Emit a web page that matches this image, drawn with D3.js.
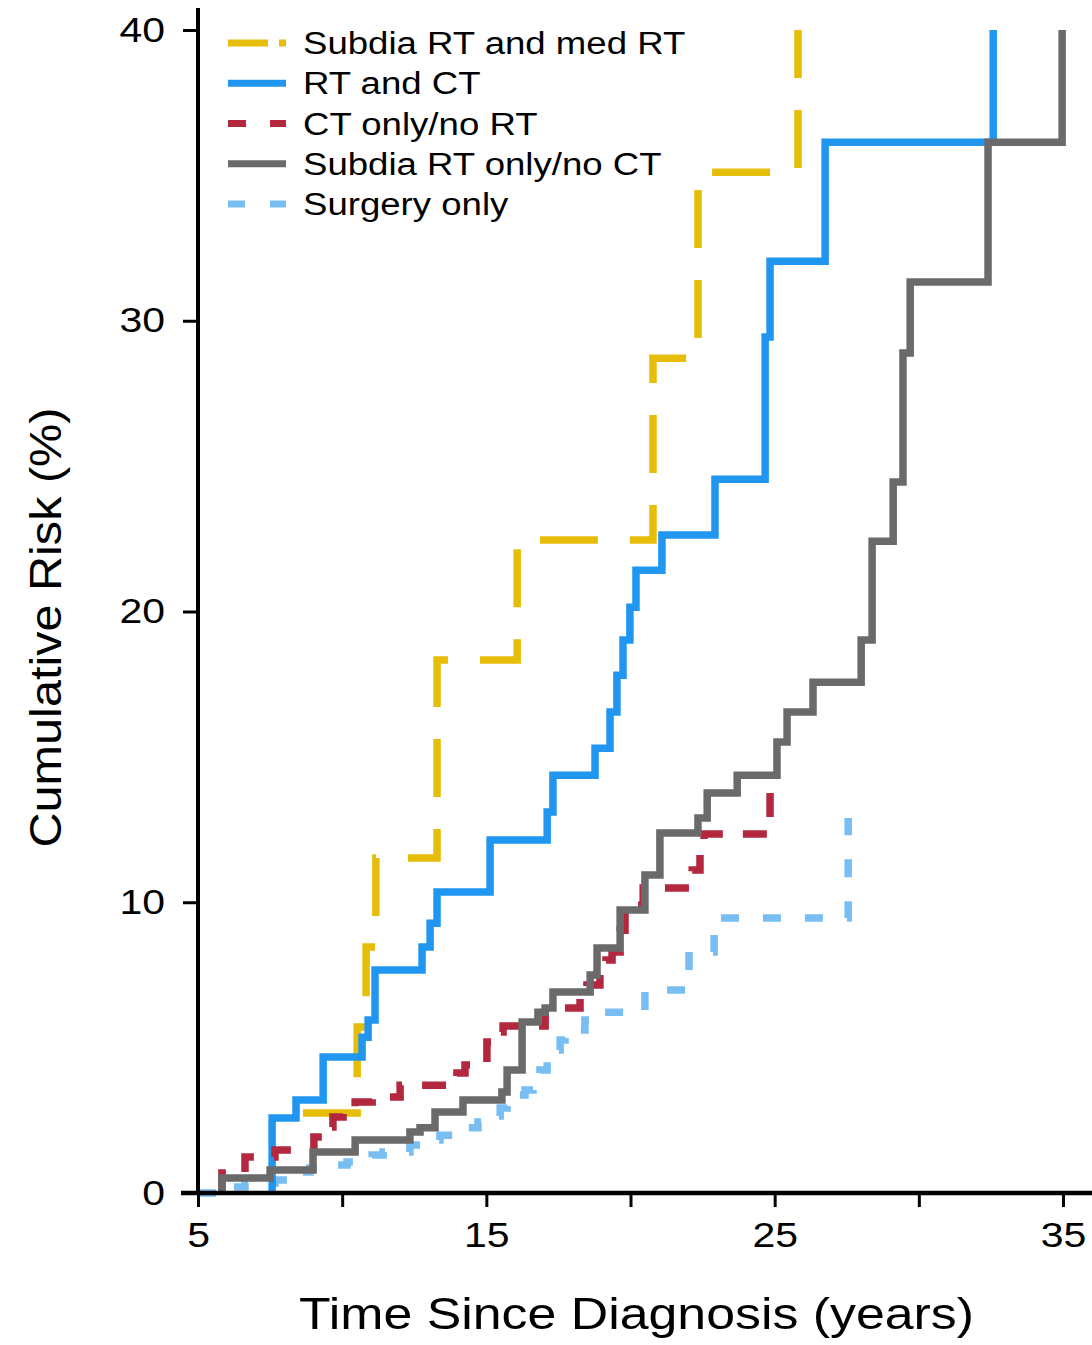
<!DOCTYPE html>
<html>
<head>
<meta charset="utf-8">
<script src="https://cdn.jsdelivr.net/npm/d3@7"></script>
<style>
  html, body { margin: 0; padding: 0; background: #fff; }
  svg { display: block; }
  text { font-family: "Liberation Sans", Arial, Helvetica, sans-serif; fill: #000; }
  .axis-title { font-family: "Liberation Sans Narrow", "Arial Narrow", "Liberation Sans", Arial, sans-serif; }
</style>
</head>
<body>
<svg id="chart" width="1092" height="1345"></svg>
<script>
// ---- data: cumulative risk (%) step curves by treatment group ----
const groupNames = [
  "Subdia RT and med RT",
  "RT and CT",
  "CT only/no RT",
  "Subdia RT only/no CT",
  "Surgery only"
];

// year at which each curve leaves 0 (null: curve drawn from its first event)
const onsetYears = [null, 7.57, 5.83, 5.83, 5];

const subdiaMedYears = [8.64, 10.52, 10.83, 11.17, 13.29, 16.07, 20.78, 22.34, 25.81];
const subdiaMedRisk  = [2.75, 5.71, 8.46, 11.52, 18.33, 22.46, 28.71, 35.11, 40.0];

const rtCtYears = [7.57, 8.40, 9.34, 10.69, 10.90, 11.14, 12.77, 13.05, 13.29, 15.13,
                   17.11, 17.31, 18.77, 19.29, 19.53, 19.74, 19.98, 20.19, 21.09, 22.93,
                   24.67, 24.84, 26.75, 32.58];
const rtCtRisk  = [2.58, 3.20, 4.68, 5.36, 5.95, 7.67, 8.46, 9.28, 10.35, 12.14,
                   13.10, 14.37, 15.30, 16.54, 17.81, 19.02, 20.15, 21.42, 22.63, 24.55,
                   29.44, 32.05, 36.14, 40.0];

const ctOnlyYears = [5.83, 6.63, 7.67, 9.02, 9.34, 9.68, 10.03, 10.45, 11.04, 12.01,
                     13.98, 14.26, 15.02, 15.37, 15.58, 17.04, 18.25, 18.49, 18.94, 19.15,
                     19.36, 19.64, 19.81, 20.44, 22.14, 22.41, 22.55, 24.84];
const ctOnlyRisk  = [0.69, 1.24, 1.48, 1.93, 2.27, 2.61, 2.92, 3.13, 3.30, 3.71,
                     4.13, 4.40, 5.19, 5.54, 5.74, 6.36, 6.81, 7.15, 7.67, 8.01,
                     8.29, 9.04, 9.90, 10.49, 11.11, 11.80, 12.35, 14.20];

const subdiaOnlyYears = [5.83, 7.50, 8.99, 10.45, 12.35, 12.70, 13.22, 14.19, 15.54, 15.72,
                         16.24, 16.79, 17.04, 17.31, 18.60, 18.84, 19.64, 20.50, 21.02, 22.34,
                         22.66, 23.70, 25.08, 25.43, 26.33, 28.00, 28.38, 29.11, 29.45, 29.70,
                         32.40, 34.97];
const subdiaOnlyRisk  = [0.52, 0.79, 1.41, 1.82, 2.10, 2.24, 2.79, 3.20, 3.47, 4.23,
                         5.88, 6.22, 6.36, 6.91, 7.50, 8.43, 9.73, 10.94, 12.38, 12.90,
                         13.76, 14.37, 15.51, 16.54, 17.57, 19.02, 22.42, 24.45, 28.89, 31.33,
                         36.14, 40.0];

const surgeryYears = [6.21, 6.63, 7.67, 8.19, 8.54, 8.88, 9.23, 10.17, 10.62, 11.04,
                      11.42, 12.35, 12.87, 13.39, 14.33, 14.71, 15.13, 15.48, 15.72, 16.00,
                      16.34, 16.62, 16.86, 17.11, 17.31, 17.56, 17.73, 18.42, 18.60, 20.50,
                      22.03, 22.90, 27.55];
const surgeryRisk  = [0.21, 0.34, 0.45, 0.58, 0.72, 0.86, 0.96, 1.07, 1.20, 1.31,
                      1.41, 1.65, 1.82, 1.99, 2.24, 2.44, 2.65, 2.92, 3.20, 3.37,
                      3.54, 3.89, 4.23, 4.57, 4.92, 5.26, 5.61, 5.95, 6.22, 6.98,
                      8.29, 9.46, 12.90];

const yearsBySeries = [subdiaMedYears, rtCtYears, ctOnlyYears, subdiaOnlyYears, surgeryYears];
const riskBySeries  = [subdiaMedRisk, rtCtRisk, ctOnlyRisk, subdiaOnlyRisk, surgeryRisk];

const xTickValues = [5, 10, 15, 20, 25, 30, 35];
const xTickLabels = ["5", "", "15", "", "25", "", "35"];
const yTickValues = [0, 10, 20, 30, 40];
const yTickLabels = ["0", "10", "20", "30", "40"];

const xTitle = "Time Since Diagnosis (years)";
const yTitle = "Cumulative Risk (%)";

// ---- styling ----
const seriesStyle = [
  { color: "#E6BD08", dash: "58,32",  legendDash: "40,11,7,200" },
  { color: "#2196F0", dash: null,     legendDash: null },
  { color: "#B3283F", dash: "24,20",  legendDash: "18,24,16,200" },
  { color: "#6A6A6A", dash: null,     legendDash: null },
  { color: "#78BEF3", dash: "18,24",  legendDash: "17,25,16,200" }
];
const drawOrder = [4, 0, 1, 2, 3];
const lineWidth = 7.5;
const textStretch = 1.17;

const svg = d3.select("#chart");

const x = d3.scaleLinear().domain([5, 35]).range([198, 1063]);
const y = d3.scaleLinear().domain([0, 40]).range([1193, 30]);

// stretch a text element horizontally to the wide lettering of the figure
function widen(sel, factor) {
  sel.each(function () {
    const w = this.getComputedTextLength();
    if (w > 0) {
      d3.select(this)
        .attr("textLength", w * factor)
        .attr("lengthAdjust", "spacingAndGlyphs");
    }
  });
}

// ---- step curves ----
const series = groupNames.map((name, i) => {
  const pts = yearsBySeries[i].map((t, j) => [t, riskBySeries[i][j]]);
  if (onsetYears[i] != null) pts.unshift([onsetYears[i], 0]);
  return { name, pts, style: seriesStyle[i] };
});

const line = d3.line()
  .x(d => x(d[0]))
  .y(d => y(d[1]))
  .curve(d3.curveStepAfter);

svg.append("g").attr("class", "curves")
  .selectAll("path")
  .data(drawOrder.map(i => series[i]))
  .join("path")
  .attr("d", d => line(d.pts))
  .attr("fill", "none")
  .attr("stroke", d => d.style.color)
  .attr("stroke-width", lineWidth)
  .attr("stroke-linejoin", "miter")
  .attr("stroke-linecap", "butt")
  .attr("stroke-dasharray", d => d.style.dash);

// ---- axes ----
const xAxis = d3.axisBottom(x)
  .tickValues(xTickValues)
  .tickSize(14)
  .tickPadding(15)
  .tickFormat((d, i) => xTickLabels[i]);

const gx = svg.append("g")
  .attr("transform", `translate(0,${y(0)})`)
  .call(xAxis);
gx.select(".domain").remove();
gx.selectAll(".tick line").attr("stroke", "#000").attr("stroke-width", 3);
gx.selectAll(".tick text")
  .attr("font-size", 35)
  .attr("fill", "#000")
  .style("font-family", '"Liberation Sans", Arial, sans-serif');
widen(gx.selectAll(".tick text"), textStretch);

const yAxis = d3.axisLeft(y)
  .tickValues(yTickValues)
  .tickSize(15)
  .tickPadding(18)
  .tickFormat((d, i) => yTickLabels[i]);

const gy = svg.append("g")
  .attr("transform", `translate(${x(5)},0)`)
  .call(yAxis);
gy.select(".domain").remove();
gy.selectAll(".tick line").attr("stroke", "#000").attr("stroke-width", 3);
gy.selectAll(".tick text")
  .attr("font-size", 35)
  .attr("fill", "#000")
  .style("font-family", '"Liberation Sans", Arial, sans-serif');
widen(gy.selectAll(".tick text"), textStretch);

// axis lines
svg.append("line")
  .attr("x1", x(5)).attr("x2", x(5))
  .attr("y1", 8).attr("y2", y(0) + 2)
  .attr("stroke", "#000").attr("stroke-width", 4);
svg.append("line")
  .attr("x1", x(5) - 17).attr("x2", 1092)
  .attr("y1", y(0)).attr("y2", y(0))
  .attr("stroke", "#000").attr("stroke-width", 4.5);

// axis titles
svg.append("text")
  .attr("class", "axis-title")
  .attr("x", (x(5) + x(35)) / 2 + 6)
  .attr("y", 1329)
  .attr("text-anchor", "middle")
  .attr("font-size", 45)
  .attr("textLength", 675)
  .attr("lengthAdjust", "spacingAndGlyphs")
  .text(xTitle);

svg.append("text")
  .attr("class", "axis-title")
  .attr("transform", `translate(61,${(y(0) + y(40)) / 2 + 16}) rotate(-90)`)
  .attr("text-anchor", "middle")
  .attr("font-size", 45)
  .attr("textLength", 440)
  .attr("lengthAdjust", "spacingAndGlyphs")
  .text(yTitle);

// ---- legend ----
const legendRow = d3.scaleLinear().domain([0, 4]).range([43, 204]);
const legend = svg.append("g").attr("class", "legend");
const rows = legend.selectAll("g")
  .data(series)
  .join("g")
  .attr("transform", (d, i) => `translate(0,${legendRow(i)})`);

rows.append("line")
  .attr("x1", 228).attr("x2", 286)
  .attr("y1", 0).attr("y2", 0)
  .attr("stroke", d => d.style.color)
  .attr("stroke-width", 7)
  .attr("stroke-dasharray", d => d.style.legendDash);

rows.append("text")
  .attr("x", 303)
  .attr("y", 11)
  .attr("font-size", 31)
  .text(d => d.name);
widen(rows.selectAll("text"), 1.18);
</script>
</body>
</html>
